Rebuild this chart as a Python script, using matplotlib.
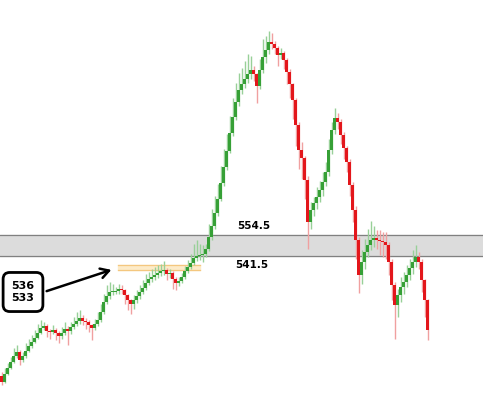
import numpy as np
import matplotlib.pyplot as plt

# candle closes (price), first open given separately
first_open = 469.5
closes = [466.0, 470.7, 474.2, 477.9, 481.5, 483.9, 479.1, 481.5, 484.5, 487.5,
          489.9, 492.3, 495.3, 498.3, 499.5, 496.5, 495.9, 497.1, 495.3, 493.5,
          495.3, 497.7, 496.5, 498.9, 500.7, 502.6, 504.4, 502.6, 502.0, 500.1,
          498.3, 500.7, 503.2, 508.0, 514.0, 517.6, 520.0, 520.0, 520.6, 521.8,
          521.2, 518.2, 515.2, 512.8, 515.2, 517.6, 520.0, 522.4, 525.4, 527.8,
          529.0, 530.2, 531.4, 532.6, 533.2, 530.8, 531.4, 527.8, 525.4, 526.6,
          529.0, 532.6, 535.0, 537.5, 540.5, 541.7, 542.3, 542.9, 545.9, 553.1,
          559.7, 567.5, 576.0, 585.6, 595.2, 604.8, 615.7, 625.3, 634.3, 641.5,
          645.2, 648.2, 651.2, 653.6, 651.2, 644.0, 653.6, 661.4, 665.6, 670.4,
          669.2, 666.8, 662.6, 663.8, 659.6, 652.4, 645.2, 635.5, 620.5, 605.4,
          600.6, 587.4, 562.1, 569.3, 573.5, 577.2, 581.4, 586.2, 592.2, 605.4,
          617.5, 624.7, 622.3, 614.5, 606.6, 598.2, 584.4, 569.3, 551.3, 530.2,
          538.1, 544.1, 548.3, 551.3, 552.5, 551.3, 550.7, 550.1, 548.3, 538.1,
          524.2, 512.2, 518.2, 523.0, 526.0, 530.2, 534.4, 538.1, 541.1, 538.1,
          527.2, 515.2, 497.1]
highs = [472, 474, 477, 481, 486, 488, 485, 484, 489, 492,
         494, 497, 501, 503, 502, 500.5, 498, 500, 498.5, 496.5,
         499, 502, 499.5, 502, 505, 508, 509, 506, 504.5, 503,
         501, 503.5, 508, 513, 519, 524, 526, 525, 523, 525,
         524, 522, 519, 516, 518, 521, 524, 527, 531, 532,
         534, 535, 536, 537, 538.5, 534.5, 534, 532.5, 529, 529,
         531.5, 535.5, 539, 543, 549, 551, 549, 548, 549, 561,
         570, 578, 585, 596, 606, 615, 626, 637, 646, 652,
         655, 659, 663, 662, 656, 652, 660, 672, 674, 677,
         676, 671, 668, 667, 665, 661, 654, 646, 637, 622,
         610, 602, 590, 574, 577, 583, 587, 592, 598, 612,
         622, 631, 628, 624, 616, 608, 600, 586, 572, 553,
         545, 552, 558, 563, 560, 557, 557, 556, 556, 550,
         540, 526, 522, 529, 532, 536, 540, 545, 548, 544,
         540, 528, 516]
lows = [464, 465, 470, 473.5, 477, 480.5, 476, 478, 480.5, 484,
        486.5, 489, 491.5, 494.5, 497, 493, 492, 494.5, 491, 489,
        492, 494, 488, 495, 497.5, 499.5, 501, 500, 498, 496,
        491, 497, 499.5, 502, 507, 513, 516, 518, 518.5, 519,
        519, 513, 509, 507, 510, 513.5, 516, 519, 521, 524.5,
        526, 527.5, 528.5, 529.5, 530.5, 527.5, 528.5, 522, 521, 523.5,
        525.5, 528, 531.5, 534, 536, 538.5, 539.5, 538, 541, 544.5,
        551, 558, 566, 574.5, 584, 593.5, 603.5, 614, 623.5, 632,
        639, 643, 646, 648, 647, 634, 642, 652, 658, 663,
        666, 663, 656, 660, 654, 645, 637, 624, 608, 594,
        588, 576, 546, 558, 566, 570, 574, 578, 584, 590,
        603, 615, 618, 609, 600, 592, 578, 562, 540, 519.5,
        525, 534, 541, 545, 547, 546, 542, 541, 540, 530,
        515, 492, 505, 514, 519, 523, 527, 531, 535, 534,
        520, 505, 491]
opens = [first_open] + closes[:-1]

zone_hi, zone_lo = 554.5, 541.5
note_hi, note_lo = 536, 533

green, red = '#36a036', '#e3161b'
green_wick, red_wick = '#98d098', '#f0a0a0'

fig = plt.figure(figsize=(4.83, 4.0), dpi=100)
ax = fig.add_axes([0, 0, 1, 1])
ax.set_xlim(-0.5, 160.5)
ax.set_ylim(455.0, 695.7)
ax.axis('off')

# resistance / support zone
ax.axhspan(zone_lo, zone_hi, color='#dcdcdc', zorder=0)
ax.axhline(zone_hi, color='#808080', lw=0.9, zorder=1)
ax.axhline(zone_lo, color='#808080', lw=0.9, zorder=1)

# small orange zone
ax.fill_between([38.8, 66.2], note_lo, note_hi, color='#fdebc8', zorder=1)
ax.plot([38.8, 66.2], [note_hi, note_hi], color='#f4c77f', lw=0.9, zorder=1)
ax.plot([38.8, 66.2], [note_lo, note_lo], color='#f4c77f', lw=0.9, zorder=1)

x = np.arange(len(closes))
o = np.array(opens)
c = np.array(closes)
up = c >= o
bottoms = np.minimum(o, c)
heights = np.maximum(np.abs(c - o), 0.6)

ax.vlines(x[up], np.array(lows)[up], np.array(highs)[up], color=green_wick, lw=1.0, zorder=2)
ax.vlines(x[~up], np.array(lows)[~up], np.array(highs)[~up], color=red_wick, lw=1.0, zorder=2)
ax.bar(x[up], heights[up], bottom=bottoms[up], width=0.8, color=green, zorder=3)
ax.bar(x[~up], heights[~up], bottom=bottoms[~up], width=0.8, color=red, zorder=3)

fig.text(254 / 483, 1 - 226 / 400, f'{zone_hi}', ha='center', va='center', fontsize=7.5, fontweight='bold')
fig.text(252 / 483, 1 - 265 / 400, f'{zone_lo}', ha='center', va='center', fontsize=7.5, fontweight='bold')

fig.text(23 / 483, 1 - 292 / 400, f'{note_hi}\n{note_lo}', ha='center', va='center', fontsize=8,
         fontweight='bold', linespacing=1.3,
         bbox=dict(boxstyle='round,pad=0.75,rounding_size=0.6', fc='white', ec='black', lw=2))
ax.annotate('', xy=(114 / 483, 1 - 269 / 400), xytext=(44 / 483, 1 - 292 / 400),
            xycoords='figure fraction', textcoords='figure fraction',
            arrowprops=dict(arrowstyle='->,head_length=0.6,head_width=0.35', lw=1.8, color='black'))

fig.savefig('out.png', dpi=100)
